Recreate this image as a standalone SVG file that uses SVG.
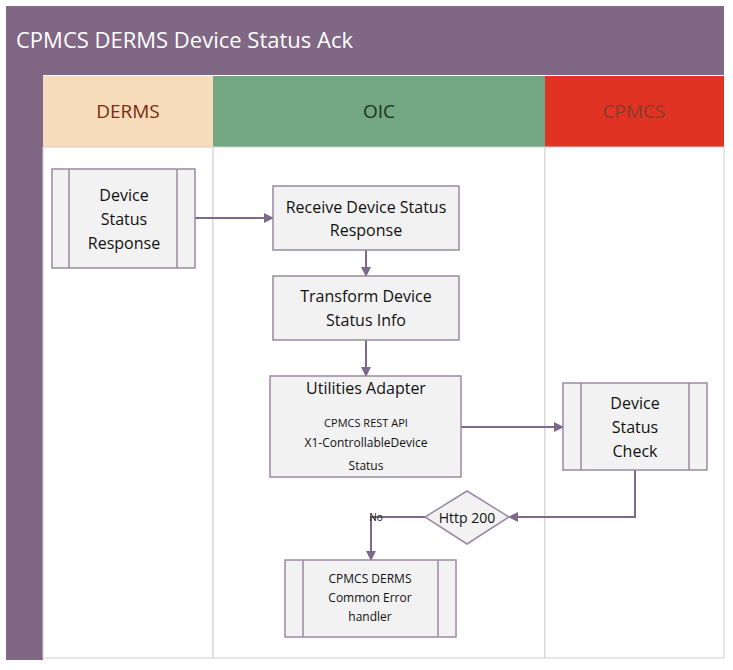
<svg xmlns="http://www.w3.org/2000/svg" width="733" height="670" viewBox="0 0 733 670">
<style>
text{font-family:"Open Sans","Liberation Sans",sans-serif;text-anchor:middle;fill:#111}
.box{fill:#f2f2f2;stroke:#9a8aa0;stroke-width:1.5}
.ln{fill:none;stroke:#7d6a8a;stroke-width:2}
.t{font-size:16px}
.s{font-size:12px}
.lane{fill:#fff;stroke:#d0d0d0;stroke-width:1}
</style>
<defs><marker id="a" markerWidth="10" markerHeight="10" refX="9" refY="5" orient="auto" markerUnits="userSpaceOnUse"><path d="M0,0L10,5L0,10z" fill="#7d6a8a"/></marker></defs>
<g id="pool">
<rect x="6" y="6" width="718" height="69" fill="#806784"/>
<text x="16" y="48" style="font-size:22px;fill:#fff;text-anchor:start">CPMCS DERMS Device Status Ack</text>
<rect x="6" y="75" width="37" height="585" fill="#806784"/>
<rect x="43" y="76" width="170" height="71" fill="#f6dcbb"/>
<rect x="213" y="76" width="332" height="71" fill="#73a783"/>
<rect x="545" y="76" width="179" height="71" fill="#e03324"/>
<text x="128" y="118" style="font-size:19px;fill:#7a2a10">DERMS</text>
<text x="379" y="118" style="font-size:19px;fill:#1f3320">OIC</text>
<text x="634" y="118" style="font-size:19px;fill:#8a3a2a">CPMCS</text>
<rect class="lane" x="43" y="147" width="170" height="511"/>
<rect class="lane" x="213" y="147" width="332" height="511"/>
<rect class="lane" x="545" y="147" width="179" height="511"/>
</g>
<g id="connectors">
<path class="ln" d="M195,218H273" marker-end="url(#a)"/>
<path class="ln" d="M366,250V276" marker-end="url(#a)"/>
<path class="ln" d="M366,340V376" marker-end="url(#a)"/>
<path class="ln" d="M461,427H563" marker-end="url(#a)"/>
<path class="ln" d="M635,470V517H509" marker-end="url(#a)"/>
<path class="ln" d="M425,517H371V560" marker-end="url(#a)"/>
<text x="376" y="521" style="font-size:10px">No</text>
</g>
<g id="n1"><rect class="box" x="52" y="169" width="143" height="99"/><path class="box" d="M69,169V268M177,169V268"/>
<text class="t" x="124" y="201">Device</text><text class="t" x="124" y="225">Status</text><text class="t" x="124" y="249">Response</text></g>
<g id="n2"><rect class="box" x="273" y="186" width="186" height="64"/>
<text class="t" x="366" y="213">Receive Device Status</text><text class="t" x="366" y="236">Response</text></g>
<g id="n3"><rect class="box" x="273" y="276" width="186" height="64"/>
<text class="t" x="366" y="302">Transform Device</text><text class="t" x="366" y="326">Status Info</text></g>
<g id="n4"><rect class="box" x="270" y="376" width="191" height="101"/>
<text class="t" x="366" y="394">Utilities Adapter</text>
<text class="s" x="366" y="427" style="font-size:11px">CPMCS REST API</text>
<text class="s" x="366" y="447">X1-ControllableDevice</text>
<text class="s" x="366" y="470">Status</text></g>
<g id="n5"><rect class="box" x="563" y="383" width="144" height="87"/><path class="box" d="M581,383V470M689,383V470"/>
<text class="t" x="635" y="409">Device</text><text class="t" x="635" y="433">Status</text><text class="t" x="635" y="457">Check</text></g>
<g id="n6"><path class="box" d="M467,491L509,517L467,544L425,517z"/>
<text x="467" y="523" style="font-size:14px">Http 200</text></g>
<g id="n7"><rect class="box" x="285" y="560" width="171" height="77"/><path class="box" d="M303,560V637M438,560V637"/>
<text class="s" x="370" y="583">CPMCS DERMS</text><text class="s" x="370" y="602">Common Error</text><text class="s" x="370" y="621">handler</text></g>
</svg>
